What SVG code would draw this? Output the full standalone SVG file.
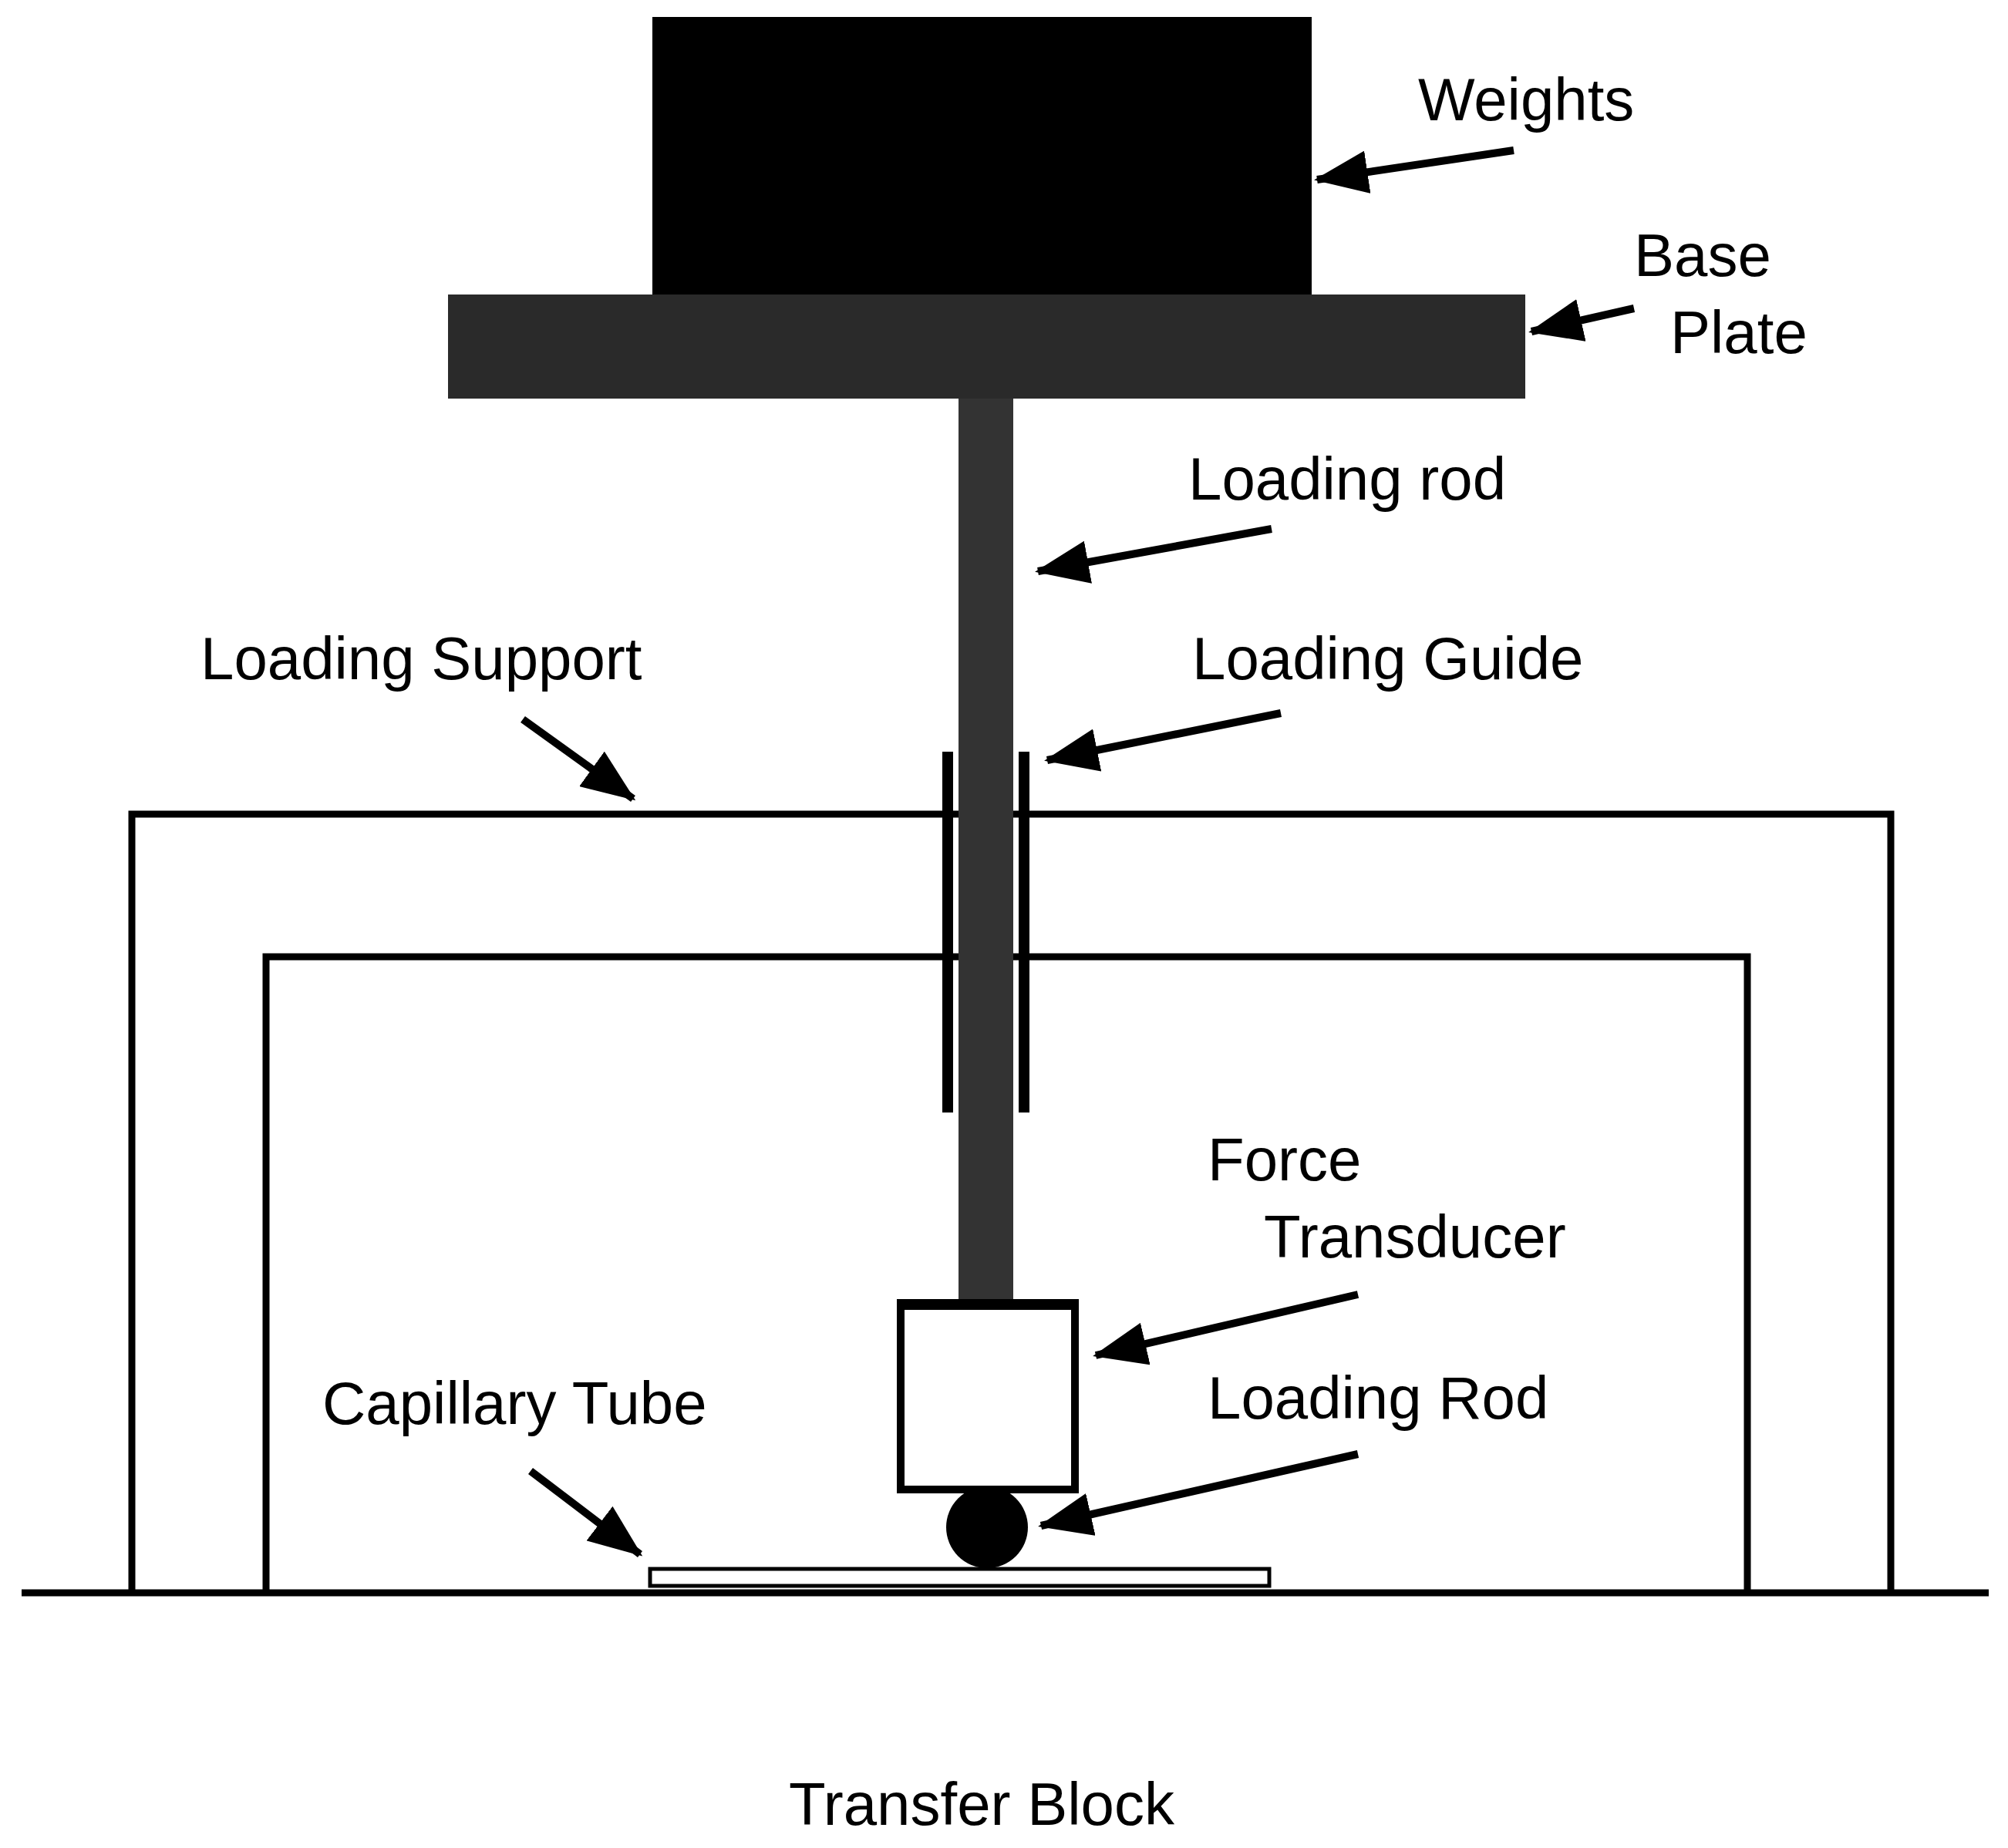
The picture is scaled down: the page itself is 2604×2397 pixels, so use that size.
<svg xmlns="http://www.w3.org/2000/svg" width="2604" height="2397" viewBox="0 0 2604 2397">
<style>
text{font-family:"Liberation Sans",Arial,sans-serif;font-size:78px;fill:#000}
.ln{fill:none;stroke:#000;stroke-width:9}
.ar{stroke:#000;stroke-width:10;fill:none;marker-end:url(#ah)}
</style>
<defs>
<marker id="ah" markerUnits="userSpaceOnUse" markerWidth="70" markerHeight="56" refX="66" refY="28" orient="auto">
<path d="M0,0 L70,28 L0,56 Z" fill="#000"/>
</marker>
</defs>
<rect width="2604" height="2397" fill="#fff"/>
<g id="support"><path class="ln" d="M171,2066 V1056 H2452 V2066 M345,2066 V1241 H2266 V2066"/></g>
<g id="weights"><rect x="846" y="22" width="855" height="361" fill="#000"/></g>
<g id="baseplate"><rect x="581" y="382" width="1397" height="135" fill="#2a2a2a"/></g>
<g id="rod"><rect x="1243" y="517" width="71" height="1171" fill="#333"/></g>
<g id="guide"><line x1="1229" y1="975" x2="1229" y2="1443" stroke="#000" stroke-width="14"/><line x1="1328" y1="975" x2="1328" y2="1443" stroke="#000" stroke-width="14"/></g>
<g id="transducer"><rect x="1168" y="1692" width="226" height="240" fill="#fff" stroke="#000" stroke-width="10"/><line x1="1163" y1="1692" x2="1399" y2="1692" stroke="#000" stroke-width="14"/></g>
<g id="ball"><circle cx="1280" cy="1981" r="53" fill="#000"/></g>
<g id="capillary"><rect x="843" y="2035" width="803" height="22" fill="#fff" stroke="#000" stroke-width="5"/></g>
<g id="ground"><line x1="28" y1="2066" x2="2579" y2="2066" stroke="#000" stroke-width="9"/></g>
<g id="connectors">
<line class="ar" x1="1963" y1="195" x2="1708" y2="233"/>
<line class="ar" x1="2119" y1="400" x2="1986" y2="430"/>
<line class="ar" x1="1649" y1="686" x2="1346" y2="741"/>
<line class="ar" x1="1661" y1="925" x2="1358" y2="986"/>
<line class="ar" x1="678" y1="933" x2="821" y2="1036"/>
<line class="ar" x1="1761" y1="1679" x2="1421" y2="1758"/>
<line class="ar" x1="1761" y1="1886" x2="1350" y2="1979"/>
<line class="ar" x1="688" y1="1908" x2="830" y2="2016"/>
</g>
<g id="labels">
<text x="1839" y="156">Weights</text>
<text x="2119" y="358">Base</text>
<text x="2166" y="458">Plate</text>
<text x="1541" y="648">Loading rod</text>
<text x="260" y="881">Loading Support</text>
<text x="1546" y="881">Loading Guide</text>
<text x="1566" y="1531">Force</text>
<text x="1639" y="1631">Transducer</text>
<text x="418" y="1847">Capillary Tube</text>
<text x="1566" y="1840">Loading Rod</text>
<text x="1023" y="2367">Transfer Block</text>
</g>
</svg>
